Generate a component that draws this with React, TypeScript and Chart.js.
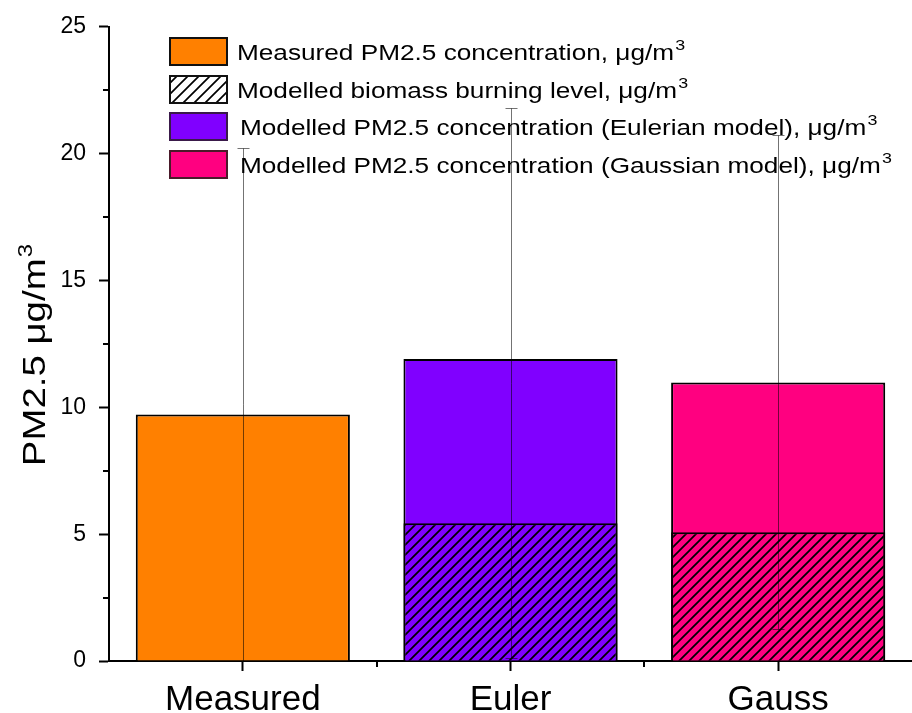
import React, { useEffect, useRef } from "react";
import { Chart, registerables } from "chart.js";

Chart.register(...registerables);

// Categories and values (μg/m³)
const categories = ["Measured", "Euler", "Gauss"];
const totalPM25 = [9.72, 11.9, 10.98];
const biomassLevel = [null, 5.43, 5.08];
const errorUpper = [20.22, 21.8, 20.75];
const errorLower = [0, 0.1, 1.25];
const barColors = ["#FF8000", "#8000FF", "#FF0080"];
const yTicks = [0, 5, 10, 15, 20, 25];

const legendItems = [
  { text: "Measured PM2.5 concentration, ", fill: "#FF8000", hatch: false, border: "#111" },
  { text: "Modelled biomass burning level, ", fill: "#FFFFFF", hatch: true, border: "#111" },
  { text: "Modelled PM2.5 concentration (Eulerian model), ", fill: "#8000FF", hatch: false, border: "#3a1a4a" },
  { text: "Modelled PM2.5 concentration (Gaussian model), ", fill: "#FF0080", hatch: false, border: "#4a1a2a" },
];

const FONT = "Arial, 'Liberation Sans', sans-serif";

function makeHatch(color: string, size = 10): CanvasPattern | string {
  const c = document.createElement("canvas");
  c.width = size;
  c.height = size;
  const g = c.getContext("2d");
  if (!g) return color;
  g.fillStyle = color;
  g.fillRect(0, 0, size, size);
  g.strokeStyle = "#000";
  g.lineWidth = 1.7;
  g.beginPath();
  g.moveTo(-1, size + 1);
  g.lineTo(size + 1, -1);
  g.moveTo(-1, 1);
  g.lineTo(1, -1);
  g.moveTo(size - 1, size + 1);
  g.lineTo(size + 1, size - 1);
  g.stroke();
  const p = g.createPattern(c, "repeat");
  return p || color;
}

// Draws a text run with a superscript "3", widened horizontally by sx
function drawUnitText(
  ctx: CanvasRenderingContext2D,
  text: string,
  size: number,
  supSize: number,
  supRise: number,
  sx: number
) {
  ctx.save();
  ctx.scale(sx, 1);
  ctx.fillStyle = "#000";
  ctx.textBaseline = "alphabetic";
  ctx.textAlign = "left";
  ctx.font = `${size}px ${FONT}`;
  ctx.fillText(text, 0, 0);
  const w = ctx.measureText(text).width;
  ctx.font = `${supSize}px ${FONT}`;
  ctx.fillText("3", w + 1, -supRise);
  ctx.restore();
}

// Minor ticks, error bars, legend and the axis title
const decorations = {
  id: "decorations",
  afterDatasetsDraw(chart: any) {
    const ctx = chart.ctx;
    const x = chart.scales.x;
    const y = chart.scales.y;
    const area = chart.chartArea;

    // error bars
    ctx.save();
    ctx.strokeStyle = "rgba(0,0,0,0.55)";
    ctx.lineWidth = 1;
    errorUpper.forEach((hi, i) => {
      const px = Math.round(x.getPixelForValue(i)) + 0.5;
      const yHi = Math.round(y.getPixelForValue(hi)) + 0.5;
      const yLo = Math.round(y.getPixelForValue(errorLower[i])) + 0.5;
      ctx.beginPath();
      ctx.moveTo(px, yHi);
      ctx.lineTo(px, Math.min(yLo, area.bottom));
      ctx.moveTo(px - 6, yHi);
      ctx.lineTo(px + 6, yHi);
      if (errorLower[i] > 0) {
        ctx.moveTo(px - 6, yLo);
        ctx.lineTo(px + 6, yLo);
      }
      ctx.stroke();
    });
    ctx.restore();
  },
  afterDraw(chart: any) {
    const ctx = chart.ctx;
    const x = chart.scales.x;
    const y = chart.scales.y;
    const area = chart.chartArea;

    // minor ticks
    ctx.save();
    ctx.strokeStyle = "#000";
    ctx.lineWidth = 2;
    ctx.beginPath();
    for (let i = 0; i < yTicks.length - 1; i++) {
      const v = (yTicks[i] + yTicks[i + 1]) / 2;
      const py = Math.round(y.getPixelForValue(v));
      ctx.moveTo(area.left - 6, py);
      ctx.lineTo(area.left, py);
    }
    for (let i = 0; i < categories.length - 1; i++) {
      const px = Math.round((x.getPixelForValue(i) + x.getPixelForValue(i + 1)) / 2);
      ctx.moveTo(px, area.bottom);
      ctx.lineTo(px, area.bottom + 6);
    }
    ctx.stroke();
    ctx.restore();

    // legend
    const boxX = 170;
    const boxW = 57;
    const boxH = 27;
    const rowTops = [38, 76, 113, 151];
    legendItems.forEach((item, i) => {
      const top = rowTops[i];
      ctx.save();
      ctx.fillStyle = item.hatch ? makeHatch("#FFFFFF", 11) : item.fill;
      ctx.fillRect(boxX, top, boxW, boxH);
      ctx.strokeStyle = item.border;
      ctx.lineWidth = 2;
      ctx.strokeRect(boxX, top, boxW, boxH);
      ctx.restore();

      const tx = i < 2 ? 237 : 240;
      ctx.save();
      ctx.translate(tx, top + boxH / 2 + 8);
      drawUnitText(ctx, item.text + "μg/m", 22, 15, 10, 1.19);
      ctx.restore();
    });

    // y-axis title
    ctx.save();
    const sx = 1.2;
    ctx.font = `32px ${FONT}`;
    const wMain = ctx.measureText("PM2.5 μg/m").width;
    ctx.font = `20px ${FONT}`;
    const wSup = ctx.measureText("3").width;
    const total = (wMain + wSup + 1) * sx;
    ctx.translate(45, 355);
    ctx.rotate(-Math.PI / 2);
    ctx.translate(-total / 2, 0);
    drawUnitText(ctx, "PM2.5 μg/m", 32, 20, 13, sx);
    ctx.restore();
  },
};

export default function App() {
  const canvasRef = useRef<HTMLCanvasElement | null>(null);

  useEffect(() => {
    const canvas = canvasRef.current;
    if (!canvas) return;

    const hatches = barColors.map((c) => makeHatch(c, 10));

    const chart = new Chart(canvas, {
      type: "bar",
      data: {
        labels: categories,
        datasets: [
          {
            label: "Modelled biomass burning level",
            data: biomassLevel as any,
            backgroundColor: hatches as any,
            borderColor: "#000",
            borderWidth: 2,
            grouped: false,
            order: 0,
            barPercentage: 0.8,
            categoryPercentage: 1,
          },
          {
            label: "PM2.5 concentration",
            data: totalPM25,
            backgroundColor: barColors,
            borderColor: "#000",
            borderWidth: 2,
            grouped: false,
            order: 1,
            barPercentage: 0.8,
            categoryPercentage: 1,
          },
        ],
      },
      options: {
        animation: false,
        responsive: true,
        maintainAspectRatio: false,
        devicePixelRatio: 1,
        layout: { padding: { top: 26, right: 0, left: 0, bottom: 0 } },
        plugins: {
          legend: { display: false },
          tooltip: { enabled: false },
          title: { display: false },
        },
        scales: {
          x: {
            type: "category",
            offset: true,
            grid: {
              display: true,
              drawOnChartArea: false,
              offset: false,
              drawTicks: true,
              tickLength: 10,
              tickWidth: 2,
              tickColor: "#000",
            },
            border: { display: true, color: "#000", width: 2 },
            ticks: {
              color: "#000",
              font: { family: FONT, size: 35 },
              padding: 8,
            },
            afterFit(scale: any) {
              scale.height = 52;
            },
          },
          y: {
            min: 0,
            max: 25,
            grid: {
              display: true,
              drawOnChartArea: false,
              drawTicks: true,
              tickLength: 10,
              tickWidth: 2,
              tickColor: "#000",
            },
            border: { display: true, color: "#000", width: 2 },
            ticks: {
              stepSize: 5,
              color: "#000",
              font: { family: FONT, size: 23 },
              padding: 13,
            },
            afterBuildTicks(scale: any) {
              scale.ticks = yTicks.map((v) => ({ value: v }));
            },
            afterFit(scale: any) {
              scale.width = 109;
            },
          },
        },
      },
      plugins: [decorations],
    });

    return () => chart.destroy();
  }, []);

  return (
    <div style={{ position: "fixed", left: 0, top: 0, width: 912, height: 713, background: "#fff" }}>
      <canvas ref={canvasRef} />
    </div>
  );
}
